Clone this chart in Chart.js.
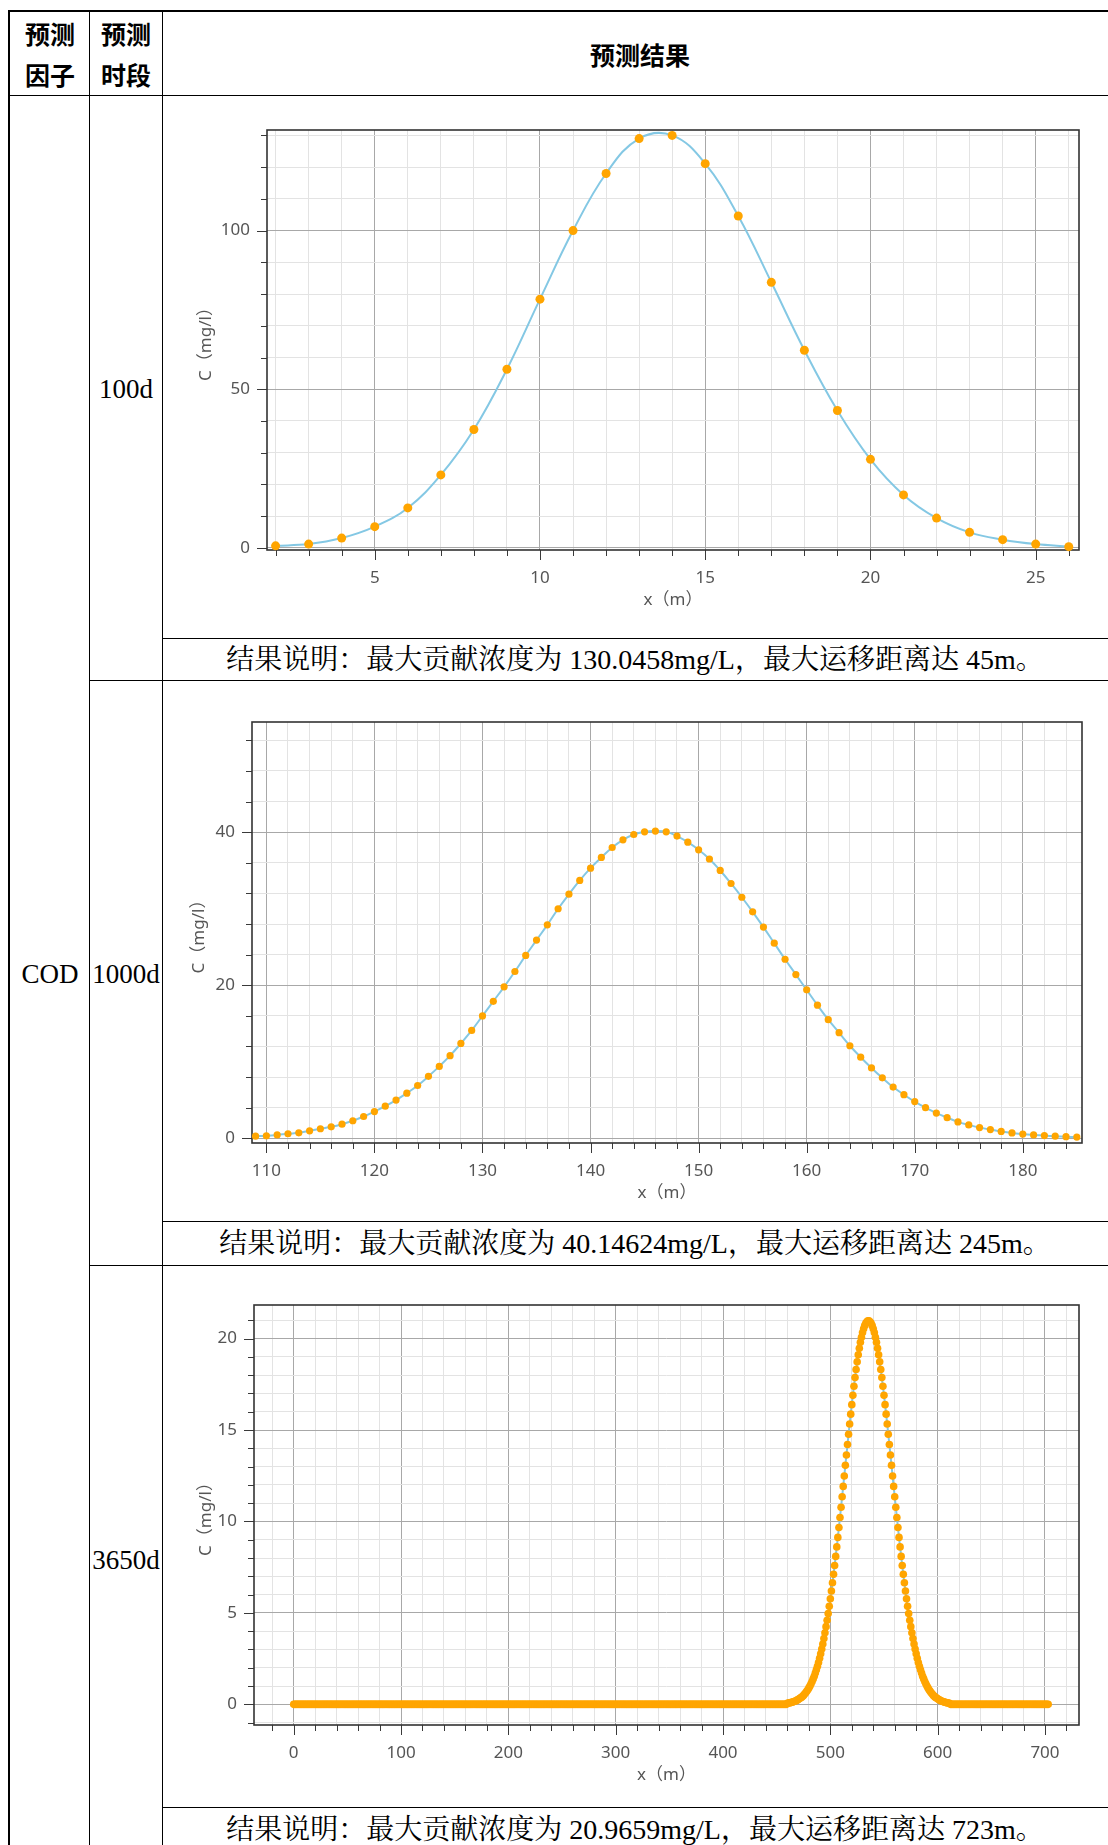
<!DOCTYPE html>
<html lang="zh-CN">
<head>
<meta charset="utf-8">
<title>COD 预测结果</title>
<script src="https://cdn.jsdelivr.net/npm/chart.js@4.4.1/dist/chart.umd.min.js"></script>
<style>
html, body { margin:0; padding:0; background:#fff; }
#page { position:relative; width:1108px; height:1845px; overflow:hidden; background:#fff; }
.ln { position:absolute; background:#000; }
.t { position:absolute; transform:translate(-50%,-50%); white-space:nowrap; line-height:1; color:#000; }
.hd { font-family:"Noto Sans CJK SC", sans-serif; font-weight:bold; font-size:25px; }
.bd { font-family:"Liberation Serif","Noto Serif CJK SC","Noto Sans CJK SC",serif; font-size:27px; }
.bd.note { font-size:28px; }
canvas { position:absolute; left:163px; }
</style>
</head>
<body>
<div id="page">
  <!-- table lines -->
  <div class="ln" style="left:8px;top:10px;width:1104px;height:2px"></div>
  <div class="ln" style="left:8px;top:10px;width:2px;height:1840px"></div>
  <div class="ln" style="left:9px;top:95px;width:1103px;height:1px"></div>
  <div class="ln" style="left:89px;top:10px;width:1px;height:1840px"></div>
  <div class="ln" style="left:162px;top:10px;width:1px;height:1840px"></div>
  <div class="ln" style="left:162px;top:638px;width:950px;height:1px"></div>
  <div class="ln" style="left:89px;top:680px;width:1023px;height:1px"></div>
  <div class="ln" style="left:162px;top:1221px;width:950px;height:1px"></div>
  <div class="ln" style="left:89px;top:1265px;width:1023px;height:1px"></div>
  <div class="ln" style="left:162px;top:1807px;width:950px;height:1px"></div>

  <!-- header -->
  <div class="t hd" style="left:50px;top:33px">预测</div>
  <div class="t hd" style="left:50px;top:74px">因子</div>
  <div class="t hd" style="left:126px;top:33px">预测</div>
  <div class="t hd" style="left:126px;top:74px">时段</div>
  <div class="t hd" style="left:640px;top:54px">预测结果</div>

  <!-- body labels -->
  <div class="t bd" style="left:50px;top:974px">COD</div>
  <div class="t bd" style="left:126px;top:389px">100d</div>
  <div class="t bd" style="left:126px;top:974px">1000d</div>
  <div class="t bd" style="left:126px;top:1560px">3650d</div>

  <div class="t bd note" style="left:635px;top:660px">结果说明：最大贡献浓度为 130.0458mg/L，最大运移距离达 45m。</div>
  <div class="t bd note" style="left:635px;top:1244px">结果说明：最大贡献浓度为 40.14624mg/L，最大运移距离达 245m。</div>
  <div class="t bd note" style="left:635px;top:1830px">结果说明：最大贡献浓度为 20.9659mg/L，最大运移距离达 723m。</div>

  <canvas id="c100" width="945" height="541" style="top:97px"></canvas>
  <canvas id="c1000" width="945" height="539" style="top:682px"></canvas>
  <canvas id="c3650" width="945" height="540" style="top:1267px"></canvas>
</div>

<script>
// 100d: x (m) and C (mg/l)
const x100 = [2, 3, 4, 5, 6, 7, 8, 9, 10, 11, 12, 13, 14, 15, 16, 17, 18, 19, 20, 21, 22, 23, 24, 25, 26];
const c100 = [0.65, 1.2, 3.1, 6.7, 12.6, 23.0, 37.3, 56.3, 78.4, 100.0, 118.0, 129.0, 130.0, 121.1, 104.6, 83.7, 62.3, 43.3, 27.9, 16.7, 9.4, 4.9, 2.6, 1.2, 0.4];

// 1000d
const x1000 = [109, 110, 111, 112, 113, 114, 115, 116, 117, 118, 119, 120, 121, 122, 123, 124, 125, 126, 127, 128,
  129, 130, 131, 132, 133, 134, 135, 136, 137, 138, 139, 140, 141, 142, 143, 144, 145, 146, 147, 148,
  149, 150, 151, 152, 153, 154, 155, 156, 157, 158, 159, 160, 161, 162, 163, 164, 165, 166, 167, 168,
  169, 170, 171, 172, 173, 174, 175, 176, 177, 178, 179, 180, 181, 182, 183, 184, 185];
const c1000 = [0.28, 0.34, 0.45, 0.6, 0.72, 0.98, 1.25, 1.5, 1.85, 2.3, 2.85, 3.5, 4.2, 5.0, 5.9, 6.9, 8.1, 9.4, 10.8, 12.4,
  14.1, 16.0, 17.9, 19.8, 21.8, 23.9, 25.9, 27.9, 30.0, 31.9, 33.7, 35.3, 36.7, 38.0, 39.0, 39.7, 40.05, 40.15, 40.05, 39.5,
  38.7, 37.7, 36.5, 35.0, 33.3, 31.5, 29.6, 27.6, 25.5, 23.4, 21.4, 19.4, 17.4, 15.5, 13.8, 12.1, 10.6, 9.2, 7.9, 6.7,
  5.7, 4.8, 4.0, 3.3, 2.7, 2.15, 1.75, 1.4, 1.15, 0.9, 0.7, 0.56, 0.45, 0.36, 0.28, 0.22, 0.16];

// 3650d: points every 1 m from 0 to 703, zero outside the peak
const x3650First = 0;
const x3650Last = 703;
const peak3650From = 460;
const peak3650 = [
  0.06, 0.07, 0.08, 0.10, 0.11, 0.13, 0.15, 0.17, 0.20, 0.23,
  0.26, 0.30, 0.34, 0.38, 0.43, 0.49, 0.56, 0.63, 0.71, 0.80,
  0.90, 1.00, 1.12, 1.25, 1.39, 1.54, 1.71, 1.89, 2.08, 2.29,
  2.52, 2.76, 3.02, 3.30, 3.60, 3.91, 4.25, 4.60, 4.97, 5.36,
  5.77, 6.20, 6.65, 7.11, 7.59, 8.09, 8.61, 9.13, 9.67, 10.22,
  10.78, 11.35, 11.92, 12.49, 13.07, 13.64, 14.21, 14.77, 15.33, 15.87,
  16.39, 16.90, 17.40, 17.87, 18.31, 18.73, 19.12, 19.47, 19.80, 20.08,
  20.33, 20.54, 20.71, 20.84, 20.92, 20.97,
  20.97, 20.92, 20.84, 20.71, 20.54, 20.33,
  20.08, 19.80, 19.47, 19.12, 18.73, 18.31, 17.87, 17.40, 16.90, 16.39,
  15.87, 15.33, 14.77, 14.21, 13.64, 13.07, 12.49, 11.92, 11.35, 10.78,
  10.22, 9.67, 9.13, 8.61, 8.09, 7.59, 7.11, 6.65, 6.20, 5.77,
  5.36, 4.97, 4.60, 4.25, 3.91, 3.60, 3.30, 3.02, 2.76, 2.52,
  2.29, 2.08, 1.89, 1.71, 1.54, 1.39, 1.25, 1.12, 1.00, 0.90,
  0.80, 0.71, 0.63, 0.56, 0.49, 0.43, 0.38, 0.34, 0.30, 0.26,
  0.23, 0.20, 0.17, 0.15, 0.13, 0.11, 0.10, 0.08, 0.07, 0.06];

const x3650 = [];
const c3650 = [];
for (let x = x3650First; x <= x3650Last; x++) {
  x3650.push(x);
  const v = peak3650[x - peak3650From];
  c3650.push(v === undefined ? 0 : v);
}

Chart.defaults.font.family = '"Noto Sans", "Noto Sans CJK SC", sans-serif';

function onStep(v, step) {
  const r = v / step;
  return Math.abs(r - Math.round(r)) < 1e-6;
}

// frame of the plot + major / minor tick marks
const frameTicks = {
  id: 'frameTicks',
  beforeDatasetsDraw(chart, args, o) {
    const {ctx, chartArea: a} = chart;
    const sx = chart.scales.x, sy = chart.scales.y;
    ctx.save();
    ctx.strokeStyle = '#3a3a3a';
    ctx.lineWidth = 1;
    ctx.beginPath();
    sx.ticks.forEach(t => {
      const px = Math.round(sx.getPixelForValue(t.value)) + 0.5;
      const len = onStep(t.value, o.xMajor) ? 10 : 6;
      ctx.moveTo(px, a.bottom);
      ctx.lineTo(px, a.bottom + len);
    });
    sy.ticks.forEach(t => {
      const py = Math.round(sy.getPixelForValue(t.value)) + 0.5;
      const len = onStep(t.value, o.yMajor) ? 10 : 6;
      ctx.moveTo(a.left, py);
      ctx.lineTo(a.left - len, py);
    });
    ctx.stroke();
    ctx.lineWidth = 1.6;
    ctx.strokeStyle = '#333';
    ctx.strokeRect(a.left, a.top, a.right - a.left, a.bottom - a.top);
    ctx.restore();
  }
};

function gridColor(c, major) {
  if (!c.tick) return '#e3e3e3';
  return onStep(c.tick.value, major) ? '#a8a8a8' : '#e3e3e3';
}

function drawChart(id, xs, ys, s) {
  const pts = xs.map((x, i) => ({x: x, y: ys[i]}));
  return new Chart(document.getElementById(id), {
    type: 'line',
    data: {
      datasets: [{
        data: pts,
        borderColor: '#84c8e4',
        borderWidth: 2,
        tension: 0.4,
        pointRadius: s.r,
        pointBackgroundColor: '#ffa500',
        pointBorderWidth: 0,
        clip: false
      }]
    },
    options: {
      responsive: false,
      animation: false,
      devicePixelRatio: 1,
      layout: {padding: s.pad},
      plugins: {
        legend: {display: false},
        tooltip: {enabled: false},
        frameTicks: {xMajor: s.xMajor, yMajor: s.yMajor}
      },
      scales: {
        x: {
          type: 'linear',
          min: s.xMin, max: s.xMax,
          afterFit: sc => { sc.height = 60; },
          border: {display: false},
          grid: {drawTicks: false, color: c => gridColor(c, s.xMajor)},
          ticks: {
            stepSize: s.xStep, includeBounds: false, autoSkip: false, maxRotation: 0,
            padding: 18, color: '#555', font: {size: 17},
            callback: v => onStep(v, s.xMajor) ? String(v) : ''
          },
          title: {display: true, text: 'x（m）', color: '#555', font: {size: 17}, padding: 0}
        },
        y: {
          type: 'linear',
          min: s.yMin, max: s.yMax,
          afterFit: sc => { sc.width = s.yWidth; },
          border: {display: false},
          grid: {drawTicks: false, color: c => gridColor(c, s.yMajor)},
          ticks: {
            stepSize: s.yStep, includeBounds: false, autoSkip: false,
            padding: 17, color: '#555', font: {size: 17},
            callback: v => onStep(v, s.yMajor) ? String(v) : ''
          },
          title: {display: true, text: 'C（mg/l）', color: '#555', font: {size: 17}, padding: {top: s.yTitlePad, bottom: 0}}
        }
      }
    },
    plugins: [frameTicks]
  });
}

drawChart('c100', x100, c100, {
  xMin: 1.74, xMax: 26.31, xStep: 1, xMajor: 5,
  yMin: -0.66, yMax: 131.7, yStep: 10, yMajor: 50,
  yWidth: 104, yTitlePad: 33, r: 4.5,
  pad: {top: 33, right: 29, bottom: 28, left: 0}
});

drawChart('c1000', x1000, c1000, {
  xMin: 108.67, xMax: 185.48, xStep: 2, xMajor: 10,
  yMin: -0.61, yMax: 54.4, yStep: 4, yMajor: 20,
  yWidth: 89, yTitlePad: 26, r: 3.6,
  pad: {top: 40, right: 26, bottom: 18, left: 0}
});

drawChart('c3650', x3650, c3650, {
  xMin: -37, xMax: 731.7, xStep: 20, xMajor: 100,
  yMin: -1.13, yMax: 21.84, yStep: 1, yMajor: 5,
  yWidth: 91, yTitlePad: 33, r: 3.8,
  pad: {top: 38, right: 29, bottom: 22, left: 0}
});
</script>
</body>
</html>
